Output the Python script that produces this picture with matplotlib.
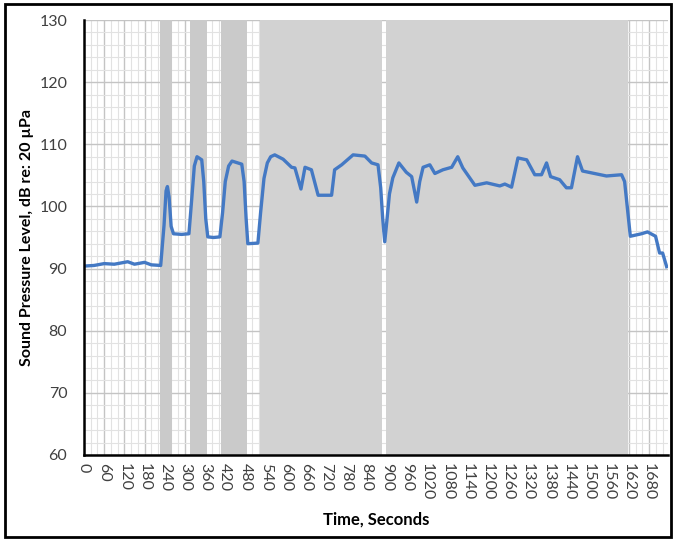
import matplotlib
matplotlib.use('Agg')
import matplotlib.pyplot as plt
from matplotlib.patches import Rectangle
from matplotlib.ticker import MultipleLocator

plt.rcParams['font.family'] = ['Lato', 'DejaVu Sans']

#-----DATA---------------------------------------------------------------------#
# Time (s) and sound pressure level (dB re: 20 uPa)
time_s = [0, 30, 60, 90, 110, 130, 150, 180, 200, 228, 238, 244, 248, 253, 259, 266,
          290, 312, 320, 328, 336, 350, 356, 362, 368, 385, 404, 412, 420, 430, 440,
          469, 476, 482, 487, 517, 525, 535, 545, 555, 567, 592, 617, 627, 645, 657,
          676, 696, 736, 745, 766, 800, 835, 855, 874, 882, 888, 894, 900, 908, 918,
          936, 958, 974, 989, 998, 1008, 1028, 1043, 1067, 1093, 1111, 1126, 1162,
          1197, 1236, 1251, 1271, 1290, 1316, 1340, 1360, 1375, 1387, 1414, 1434,
          1449, 1467, 1482, 1553, 1598, 1607, 1624, 1657, 1675, 1699, 1711, 1720, 1732]
spl_db = [90.4, 90.5, 90.8, 90.7, 90.9, 91.1, 90.7, 91.0, 90.6, 90.5, 97.0, 102.5,
          103.2, 101.5, 96.8, 95.6, 95.5, 95.6, 101.0, 106.5, 108.0, 107.5, 104.0,
          98.0, 95.1, 95.0, 95.1, 99.0, 104.0, 106.5, 107.3, 106.8, 104.0, 98.0, 94.0,
          94.1, 99.0, 104.5, 107.0, 108.0, 108.3, 107.6, 106.3, 106.2, 102.8, 106.3,
          105.9, 101.8, 101.8, 105.9, 106.7, 108.3, 108.1, 107.0, 106.7, 103.0, 98.0,
          94.3, 97.5, 102.0, 104.6, 107.0, 105.5, 104.8, 100.7, 104.0, 106.3, 106.7,
          105.3, 105.9, 106.3, 108.0, 106.2, 103.4, 103.8, 103.3, 103.6, 103.1, 107.8,
          107.5, 105.1, 105.1, 107.0, 104.8, 104.3, 103.0, 103.0, 108.0, 105.7, 104.9,
          105.1, 104.0, 95.2, 95.6, 95.9, 95.2, 92.5, 92.5, 90.3]

# Shaded intervals (start, end) in seconds
shade_start = [226, 315, 407, 523, 897]
shade_end = [261, 365, 484, 885, 1616]
shade_color = ['#cacaca', '#cacaca', '#cacaca', '#d2d2d2', '#d2d2d2']

xticks = list(range(0, 1681, 60))

#-----FIGURE-------------------------------------------------------------------#
fig = plt.figure(figsize=(6.74, 5.41), dpi=100)
ax = fig.add_axes([0.1246, 0.159, 0.866, 0.804])

# Grid
ax.xaxis.set_minor_locator(MultipleLocator(20))
ax.yaxis.set_minor_locator(MultipleLocator(2))
ax.grid(which='major', color='#c4c4c4', linewidth=1.0, zorder=0)
ax.grid(which='minor', color='#e2e2e2', linewidth=0.8, zorder=0)
ax.set_axisbelow(True)

# Shaded bands
for s, e, c in zip(shade_start, shade_end, shade_color):
    ax.axvspan(s, e, color=c, linewidth=0, zorder=1)

ax.plot(time_s, spl_db, color='#4479c4', linewidth=2.4, zorder=3,
        solid_joinstyle='round')

ax.set_xlim(0, 1735)
ax.set_ylim(60, 130)
ax.set_xticks(xticks)
ax.set_xticklabels([str(t) for t in xticks], rotation=-90)
ax.set_yticks(range(60, 131, 10))
ax.tick_params(axis='both', which='both', length=0, labelsize=11.5, colors='#404040')
ax.tick_params(axis='x', pad=6)
ax.tick_params(axis='y', pad=12)

for side in ['top', 'right']:
    ax.spines[side].set_visible(False)
for side in ['left', 'bottom']:
    ax.spines[side].set_linewidth(1.8)
    ax.spines[side].set_color('#000000')
    ax.spines[side].set_zorder(4)

ax.set_ylabel('Sound Pressure Level, dB re: 20 µPa', fontsize=11.5, fontweight='bold')
ax.yaxis.set_label_coords(-0.085, 0.5)
ax.set_xlabel('Time, Seconds', fontsize=12, fontweight='bold', labelpad=8)

# Outer frame around the figure
fig.patches.append(Rectangle((5 / 674, 4 / 541), 666 / 674, 533 / 541, transform=fig.transFigure,
                             fill=False, edgecolor='black', linewidth=2))

fig.savefig('out.png', dpi=100)
